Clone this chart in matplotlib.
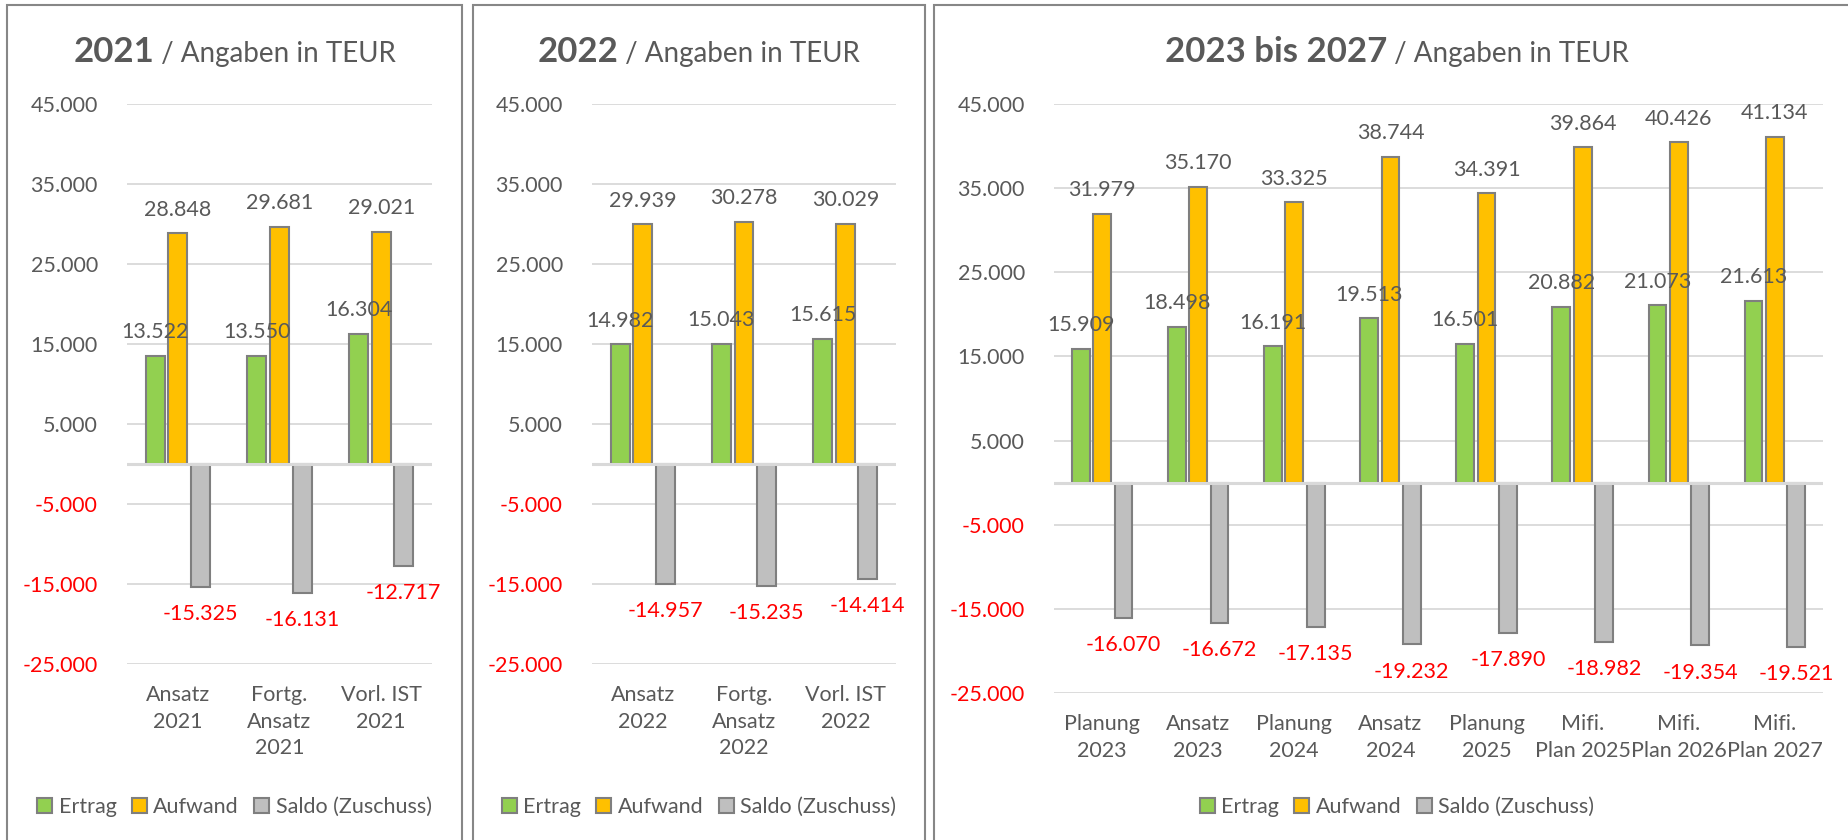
import matplotlib
matplotlib.use("Agg")
import matplotlib.pyplot as plt
from matplotlib.patches import Rectangle, Patch

# ── data (TEUR) ───────────────────────────────────────────────────────────────
cats_2021    = ["Ansatz\n2021", "Fortg.\nAnsatz\n2021", "Vorl. IST\n2021"]
ertrag_2021  = [13522, 13550, 16304]
aufwand_2021 = [28848, 29681, 29021]
saldo_2021   = [-15325, -16131, -12717]

cats_2022    = ["Ansatz\n2022", "Fortg.\nAnsatz\n2022", "Vorl. IST\n2022"]
ertrag_2022  = [14982, 15043, 15615]
aufwand_2022 = [29939, 30278, 30029]
saldo_2022   = [-14957, -15235, -14414]

cats_2327    = ["Planung\n2023", "Ansatz\n2023", "Planung\n2024", "Ansatz\n2024",
                "Planung\n2025", "Mifi.\nPlan 2025", "Mifi.\nPlan 2026", "Mifi.\nPlan 2027"]
ertrag_2327  = [15909, 18498, 16191, 19513, 16501, 20882, 21073, 21613]
aufwand_2327 = [31979, 35170, 33325, 38744, 34391, 39864, 40426, 41134]
saldo_2327   = [-16070, -16672, -17135, -19232, -17890, -18982, -19354, -19521]

series_names = ["Ertrag", "Aufwand", "Saldo (Zuschuss)"]
y_ticks = list(range(-25000, 45001, 10000))

# ── style ─────────────────────────────────────────────────────────────────────
W, H = 1849, 840
FONT = "Lato"
TEXT = "#595959"
RED = "#FF0000"
GRID = "#D9D9D9"
EDGE = "#7F7F7F"
COLORS = ["#92D050", "#FFC000", "#BFBFBF"]
FS = 15.5

plt.rcParams["font.family"] = [FONT, "DejaVu Sans"]


def fmt(v):
    return f"{v:,.0f}".replace(",", ".")


def fx(x):
    return x / W


def fy(y):
    return 1 - y / H


fig = plt.figure(figsize=(W / 100, H / 100), dpi=100)
renderer = fig.canvas.get_renderer()


def panel(frame, axbox, title_bold, cats, ertrag, aufwand, saldo):
    x0, x1 = frame
    fig.add_artist(Rectangle((fx(x0), fy(900)), fx(x1 - x0), (900 - 5) / H,
                             transform=fig.transFigure, fill=False,
                             edgecolor="#878787", linewidth=1.5))
    l, r, t, b = axbox
    ax = fig.add_axes([fx(l), fy(b), fx(r - l), (b - t) / H])

    n = len(cats)
    w = 1 / 5.4
    xs = list(range(n))
    for k, vals in enumerate([ertrag, aufwand, saldo]):
        pos = [x + (k - 1) * 1.2 * w for x in xs]
        bars = ax.bar(pos, vals, width=w, color=COLORS[k], edgecolor=EDGE,
                      linewidth=1.5, zorder=2)
        for rect, v in zip(bars, vals):
            cx = rect.get_x() + rect.get_width() / 2
            off = 17 if v > 0 else -19.5
            ax.annotate(fmt(v), (cx, v), xytext=(0, off), textcoords="offset points",
                        ha="center", va="center", fontsize=FS,
                        color=TEXT if v > 0 else RED, zorder=4)

    ax.axhline(0, color=GRID, linewidth=2.2, zorder=3)
    ax.set_xlim(-0.5, n - 0.5)
    ax.set_ylim(-25000, 45000)
    ax.set_yticks(y_ticks, [fmt(v) for v in y_ticks])
    for lab, v in zip(ax.get_yticklabels(), y_ticks):
        lab.set_color(RED if v < 0 else TEXT)
    ax.set_xticks(xs, cats)
    for lab in ax.get_xticklabels():
        lab.set_color(TEXT)
        lab.set_linespacing(1.42)
    ax.tick_params(axis="y", length=0, pad=21, labelsize=FS)
    ax.tick_params(axis="x", length=0, pad=15, labelsize=FS)
    ax.grid(axis="y", color=GRID, linewidth=1.3, zorder=0)
    ax.set_axisbelow(True)
    for s in ax.spines.values():
        s.set_visible(False)

    # title: bold year part + regular remainder, centred in the frame
    cx = (x0 + min(x1, W + 20)) / 2
    t1 = fig.text(0, fy(62), title_bold, fontsize=25, fontweight="bold",
                  color=TEXT, va="baseline", ha="left")
    t2 = fig.text(0, fy(62), " / Angaben in TEUR", fontsize=20,
                  color=TEXT, va="baseline", ha="left")
    w1 = t1.get_window_extent(renderer).width
    w2 = t2.get_window_extent(renderer).width
    start = cx - (w1 + w2) / 2
    t1.set_x(fx(start))
    t2.set_x(fx(start + w1))

    handles = [Patch(facecolor=c, edgecolor=EDGE, linewidth=1.5) for c in COLORS]
    leg = fig.legend(handles, series_names, loc="center", ncol=3, frameon=False,
                     bbox_to_anchor=(fx(cx), fy(807)), fontsize=FS,
                     handlelength=0.7, handleheight=0.7, handletextpad=0.3,
                     columnspacing=0.7, borderaxespad=0)
    for txt in leg.get_texts():
        txt.set_color(TEXT)
    return ax


panel((7, 462), (127, 432, 104, 664), "2021",
      cats_2021, ertrag_2021, aufwand_2021, saldo_2021)
panel((473, 925), (592, 896, 104, 664), "2022",
      cats_2022, ertrag_2022, aufwand_2022, saldo_2022)
panel((934, 1860), (1054, 1823, 104, 693), "2023 bis 2027",
      cats_2327, ertrag_2327, aufwand_2327, saldo_2327)

fig.savefig("out.png", dpi=100)
